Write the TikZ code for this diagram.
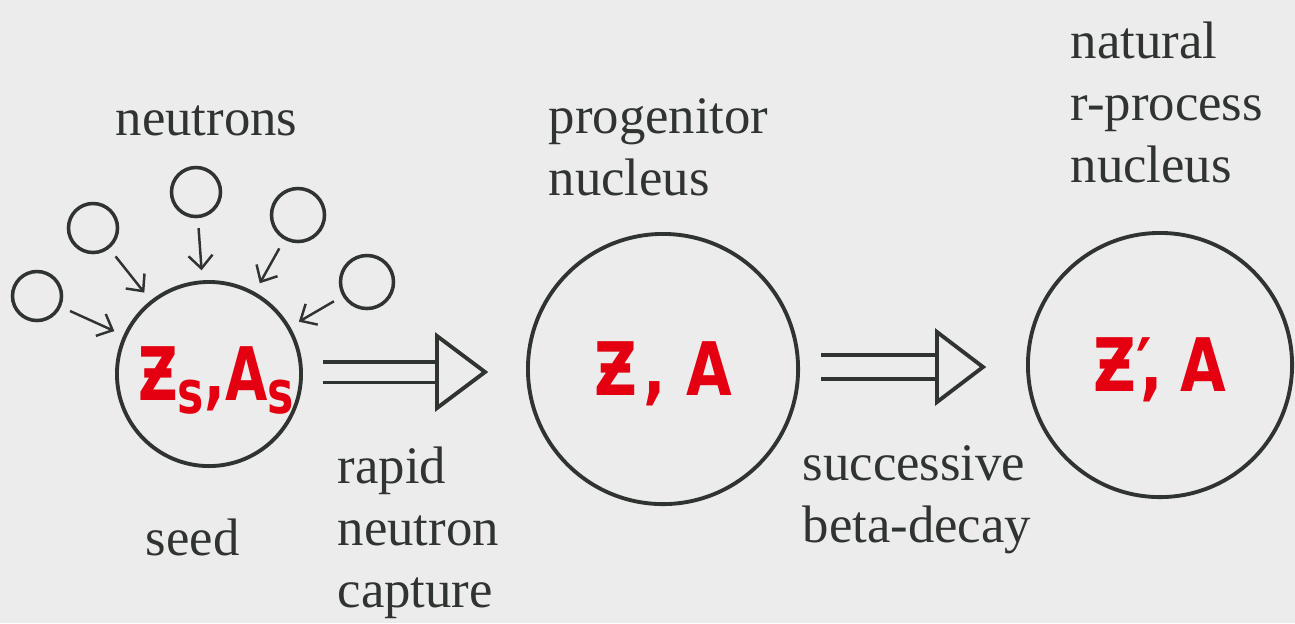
\documentclass[tikz,border=0pt]{standalone}
\usepackage{fontspec}
\setmainfont{Liberation Serif}
\newfontfamily\markerfont{DejaVu Sans}
\usetikzlibrary{arrows.meta, calc}
\definecolor{bg}{RGB}{236,236,236}
\definecolor{ink}{RGB}{48,52,48}
\definecolor{redink}{RGB}{228,0,16}

\begin{document}
\begin{tikzpicture}[x=0.01cm, y=-0.01cm,
    nucleus/.style={circle, draw=ink, line width=1.1pt, inner sep=0pt, text=redink, text depth=0pt,
      font=\markerfont\bfseries\fontsize{21pt}{21pt}\selectfont},
    neutron/.style={circle, draw=ink, line width=1pt, minimum size=0.49cm, inner sep=0pt},
    capture/.style={draw=ink, line width=0.7pt, -{Straight Barb[length=1.3mm, width=2.4mm]},
      shorten <=0.1cm, shorten >=0.1cm},
    shaft/.style={draw=ink, line width=1.1pt, double=bg},
    head/.style={draw=ink, line width=1.1pt, fill=bg, line join=miter},
    txt/.style={anchor=base west, align=left, inner sep=0pt, text=ink,
      font=\fontsize{15pt}{17.6pt}\selectfont}]
  % 1. background and page size
  \fill[bg] (0,0) rectangle (1295,623);
  \useasboundingbox (0,0) rectangle (1295,623);

  % 2. the three nuclei
  \node[nucleus, minimum size=1.84cm] (seed) at (209,374)
    {\hspace{0.14cm}\scalebox{0.74}[1]{Ƶ\raisebox{-0.17em}{\fontsize{17pt}{17pt}\selectfont s},A\raisebox{-0.17em}{\fontsize{17pt}{17pt}\selectfont s}}};
  \node[nucleus, minimum size=2.7cm] (prog) at (663,369)
    {\scalebox{0.8}[1]{Ƶ\kern0.1em, A}};
  \node[nucleus, minimum size=2.64cm] (final) at (1160,365)
    {\scalebox{0.8}[1]{Ƶ′\kern-0.2em,\kern0.3em A}};

  % 3. incoming neutrons
  \node[neutron] (n1) at (37,296) {};
  \node[neutron] (n2) at (93,228) {};
  \node[neutron] (n3) at (196,192) {};
  \node[neutron, minimum size=0.53cm] (n4) at (298,215) {};
  \node[neutron, minimum size=0.53cm] (n5) at (367,282) {};
  \foreach \n in {n1,n2,n3,n4,n5}
    \draw[capture] (\n) -- (seed);

  % 4. the two fat arrows
  \coordinate (tip1) at (485,372);
  \coordinate (tip2) at (983,367);
  \draw[shaft, double distance=0.17cm] ($(seed.east)+(20,-2)$) -- ($(tip1)+(-48,0)$);
  \draw[head] ($(tip1)+(-48,-36)$) -- (tip1) -- ($(tip1)+(-48,36)$) -- cycle;
  \draw[shaft, double distance=0.2cm] ($(prog.east)+(21,-2)$) -- ($(tip2)+(-46,0)$);
  \draw[head] ($(tip2)+(-46,-35)$) -- (tip2) -- ($(tip2)+(-46,35)$) -- cycle;

  % 5. labels (a multi-line text sits on its last baseline)
  \node[txt] (neutronstxt) at (115,135) {neutrons};
  \node[txt] (progtxt) at (548,195) {progenitor\\nucleus};
  \node[txt] (finaltxt) at (1070,182) {natural\\r-process\\nucleus};
  \node[txt] (seedtxt) at (145,555) {seed};
  \node[txt] (rapidtxt) at (337,607) {rapid\\neutron\\capture};
  \node[txt] (betatxt) at (802,542) {successive\\beta-decay};
\end{tikzpicture}
\end{document}
